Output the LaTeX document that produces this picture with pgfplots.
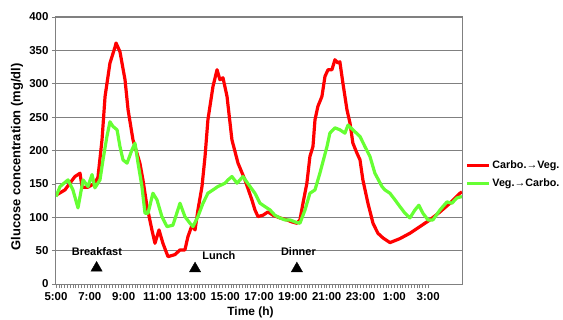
\documentclass[border=0pt]{standalone}
\usepackage{pgfplots}
\pgfplotsset{compat=1.18}
\usepackage{fontspec}
\setmainfont{Liberation Sans}
\definecolor{cred}{RGB}{255,0,0}
\definecolor{cgreen}{RGB}{102,255,51}
\definecolor{cgrid}{RGB}{128,128,128}
\begin{document}
\begin{tikzpicture}
\begin{axis}[
  scale only axis,
  width=406bp, height=267bp,
  xmin=5, xmax=29, ymin=0, ymax=400,
  ytick={0,50,...,400},
  xtick={5,7,...,27},
  xticklabels={5:00,7:00,9:00,11:00,13:00,15:00,17:00,19:00,21:00,23:00,1:00,3:00},
  minor x tick num=11,
  tick align=outside,
  major tick length=4bp, minor tick length=4bp,
  every tick/.style={cgrid, line width=0.6bp},
  xtick pos=bottom, ytick pos=left,
  ymajorgrids,
  grid style={cgrid, line width=0.9bp},
  axis line style={cgrid, line width=1bp},
  /pgf/number format/assume math mode=true,
  ticklabel style={font=\fontsize{11.5}{13}\selectfont\bfseries},
  xticklabel style={yshift=-1bp},
  ylabel={Glucose concentration (mg/dl)},
  ylabel style={font=\fontsize{13}{15}\selectfont\bfseries, at={(axis description cs:-0.096,0.476)}, anchor=center},
  xlabel={Time (h)},
  xlabel style={font=\fontsize{12}{14}\selectfont\bfseries, at={(axis description cs:0.479,0)}, anchor=north, yshift=-19bp},
  legend style={draw=none, fill=none, at={(1.005,0.41)}, anchor=west,
    font=\fontsize{10.8}{12}\selectfont\bfseries, row sep=5bp, inner xsep=1bp,
    /tikz/every even column/.append style={column sep=1bp}},
  legend cell align=left,
  legend image code/.code={\draw[#1] (0bp,0bp) -- (22bp,0bp);},
]
\addplot[cred, line width=3.2bp, line join=round] coordinates {
(5.00,133) (5.53,141) (6.12,161) (6.42,166) (6.54,145) (6.89,145) (7.30,151) (7.48,160) (7.72,216) (7.90,281) (8.19,331) (8.49,355) (8.55,361) (8.78,348) (9.08,306) (9.26,261) (9.55,216) (9.96,181) (10.14,156) (10.38,116) (10.67,81) (10.85,61) (11.09,81) (11.32,61) (11.62,41) (12.03,44) (12.33,51) (12.62,51) (12.80,71) (13.04,88) (13.22,81) (13.39,111) (13.63,146) (13.81,191) (13.98,246) (14.28,296) (14.52,321) (14.69,306) (14.87,309) (15.11,281) (15.40,216) (15.76,181) (16.17,156) (16.58,126) (16.76,111) (16.94,101) (17.23,103) (17.53,108) (17.83,103) (18.24,99) (18.65,96) (18.95,93) (19.24,91) (19.42,96) (19.60,121) (19.83,151) (20.01,191) (20.19,206) (20.31,246) (20.48,266) (20.72,281) (20.90,311) (21.08,321) (21.31,321) (21.37,326) (21.49,336) (21.67,331) (21.78,333) (21.96,301) (22.20,261) (22.38,241) (22.55,211) (22.79,196) (22.97,186) (23.14,156) (23.44,121) (23.74,91) (24.03,76) (24.33,69) (24.74,62) (25.33,68) (25.92,76) (26.51,86) (27.10,96) (27.70,108) (28.29,121) (28.88,136) (29.00,138)
};
\addlegendentry{Carbo.→Veg.}
\addplot[cgreen, line width=3.2bp, line join=round] coordinates {
(5.00,131) (5.24,146) (5.71,156) (6.00,141) (6.30,114) (6.60,156) (6.89,146) (7.13,164) (7.30,144) (7.60,156) (7.78,186) (8.01,221) (8.19,243) (8.37,236) (8.61,231) (8.78,206) (8.96,186) (9.20,181) (9.49,201) (9.67,211) (9.85,181) (10.08,146) (10.26,106) (10.44,106) (10.73,136) (10.97,126) (11.26,101) (11.56,86) (11.91,88) (12.33,121) (12.62,101) (12.92,91) (13.10,86) (13.39,101) (13.69,121) (13.98,136) (14.28,141) (14.57,146) (14.99,151) (15.17,156) (15.40,161) (15.70,151) (16.05,161) (16.47,146) (16.76,136) (17.06,121) (17.35,116) (17.65,111) (17.94,103) (18.24,99) (18.53,96) (18.83,96) (19.13,93) (19.42,91) (19.72,111) (20.01,136) (20.31,141) (20.60,166) (21.02,206) (21.19,226) (21.49,234) (21.78,231) (22.08,226) (22.26,238) (22.55,231) (22.97,221) (23.26,206) (23.56,191) (23.85,166) (24.27,146) (24.44,141) (24.74,136) (25.04,126) (25.33,116) (25.63,106) (25.92,99) (26.22,111) (26.45,118) (26.69,106) (26.99,96) (27.28,96) (27.70,111) (28.11,123) (28.40,121) (28.70,129) (29.00,131)
};
\addlegendentry{Veg.→Carbo.}
\addplot[only marks, mark=triangle*, mark size=6.5bp, black, forget plot] coordinates {(7.40,24) (13.22,23) (19.24,23)};
\node[font=\fontsize{11}{13}\selectfont\bfseries] at (axis cs:7.42,48) {Breakfast};
\node[font=\fontsize{11}{13}\selectfont\bfseries] at (axis cs:14.63,42) {Lunch};
\node[font=\fontsize{11}{13}\selectfont\bfseries] at (axis cs:19.33,48) {Dinner};
\end{axis}
\pgfresetboundingbox
\path (-56bp,-36bp) rectangle (507bp,284bp);
\end{tikzpicture}
\end{document}
